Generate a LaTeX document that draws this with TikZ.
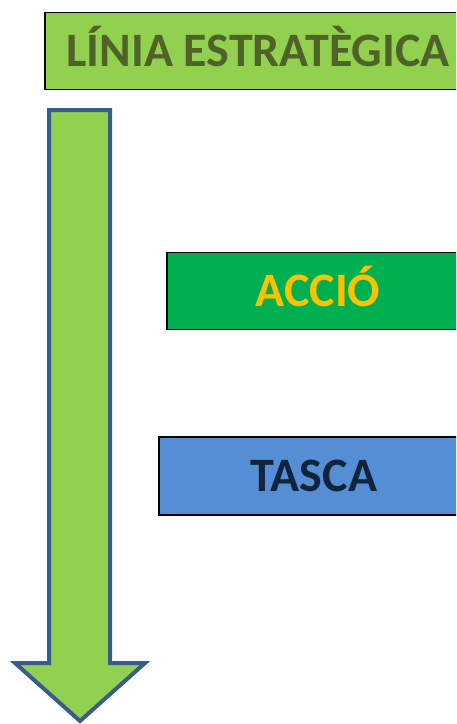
\documentclass[tikz,border=0pt]{standalone}
\usepackage{fontspec}
\setmainfont{Carlito}
\definecolor{topfill}{RGB}{146,208,80}
\definecolor{toptext}{RGB}{79,98,40}
\definecolor{accfill}{RGB}{0,176,80}
\definecolor{acctext}{RGB}{255,192,0}
\definecolor{tasfill}{RGB}{85,142,213}
\definecolor{tastext}{RGB}{16,36,62}
\definecolor{arrowline}{RGB}{56,93,138}
\tikzset{
  labelbox/.style={draw=black, line width=1.6pt, minimum height=77pt, inner sep=0pt,
    text height=31pt, text depth=0pt,
    font=\fontsize{48}{52}\selectfont\bfseries},
}
\begin{document}
\begin{tikzpicture}[x=1pt,y=-1pt]
\useasboundingbox (0,0) rectangle (456,724);
\clip (0,0) rectangle (456,724);
\node[labelbox, fill=topfill, text=toptext, minimum width=426pt] (linia) at (258,51) {LÍNIA ESTRATÈGICA};
\node[labelbox, fill=accfill, text=acctext, minimum width=302pt] (accio) at (318,291) {ACCIÓ};
\node[labelbox, fill=tasfill, text=tastext, minimum width=310pt, minimum height=78pt] (tasca) at (314,476) {TASCA};
\draw[fill=topfill, draw=arrowline, line width=4pt, line join=miter]
  (49,110) -- (110,110) -- (110,663) -- (145,663) -- (80,721) -- (15,663) -- (49,663) -- cycle;
\end{tikzpicture}
\end{document}
